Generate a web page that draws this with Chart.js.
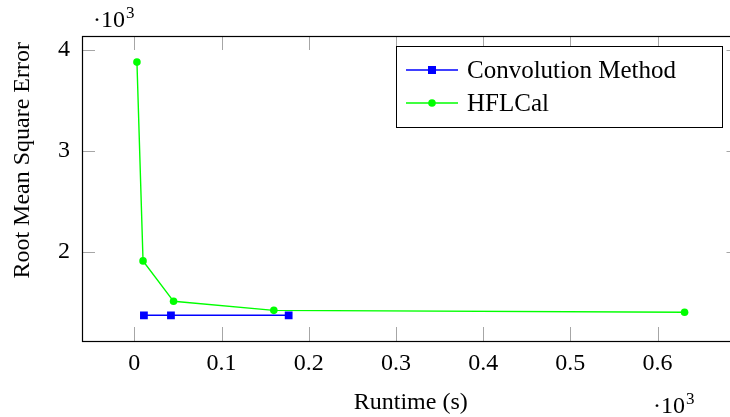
<!DOCTYPE html>
<html>
<head>
<meta charset="utf-8">
<script src="https://cdn.jsdelivr.net/npm/chart.js@4.4.1/dist/chart.umd.min.js"></script>
<style>
  html, body { margin: 0; padding: 0; background: #fff; overflow: hidden; }
  #wrap { width: 730px; height: 417px; overflow: hidden; }
</style>
</head>
<body>
<div id="wrap"><canvas id="rmseChart" width="745" height="417"></canvas></div>
<script>
// == DATA (runtime in s, RMSE) ==
const convRuntime = [11, 42, 177];
const convRmse = [1367, 1367, 1367];
const hflRuntime = [3, 10, 45, 160, 631];
const hflRmse = [3880, 1907, 1506, 1416, 1397];
const seriesNames = ['Convolution Method', 'HFLCal'];
// tick positions (labels are shown in units of 10^3)
const xTickValues = [0, 100, 200, 300, 400, 500, 600];
const yTickValues = [2000, 3000, 4000];

const FONT = '"Liberation Serif", "DejaVu Serif", serif';

function toPoints(xs, ys) {
    return xs.map((x, i) => ({ x: x, y: ys[i] }));
}

// -- inward ticks + frame (pgfplots look)
const framePlugin = {
    id: 'frame',
    beforeDatasetsDraw(chart) {
        const ctx = chart.ctx;
        const a = chart.chartArea;
        const xs = chart.scales.x, ys = chart.scales.y;
        ctx.save();
        ctx.strokeStyle = '#a6a6a6';
        ctx.lineWidth = 1;
        ctx.beginPath();
        xs.ticks.forEach(t => {
            const px = Math.round(xs.getPixelForValue(t.value)) + 0.5;
            ctx.moveTo(px, a.bottom); ctx.lineTo(px, a.bottom - 14);
            ctx.moveTo(px, a.top); ctx.lineTo(px, a.top + 14);
        });
        ys.ticks.forEach(t => {
            const py = Math.round(ys.getPixelForValue(t.value)) + 0.5;
            ctx.moveTo(a.left, py); ctx.lineTo(a.left + 13, py);
            ctx.moveTo(a.right, py); ctx.lineTo(a.right - 13, py);
        });
        ctx.stroke();
        ctx.strokeStyle = '#000';
        ctx.lineWidth = 1.2;
        ctx.strokeRect(a.left + 0.5, a.top + 0.5, a.right - a.left, a.bottom - a.top);
        ctx.restore();
    },
    afterDraw(chart) {
        const ctx = chart.ctx;
        const a = chart.chartArea;
        ctx.save();
        ctx.fillStyle = '#000';
        ctx.textBaseline = 'alphabetic';
        // multiplier labels ·10^3
        function mult(x, y) {
            ctx.font = '24px ' + FONT;
            ctx.fillText('\u00b710', x, y);
            const w = ctx.measureText('\u00b710').width;
            ctx.font = '17px ' + FONT;
            ctx.fillText('3', x + w + 1, y - 9);
        }
        mult(a.left + 11, 27);
        mult(653, 413);

        // legend box (inside, top right)
        const bx = a.left + 314, by = a.top + 10, bw = 326, bh = 81;
        ctx.fillStyle = '#fff';
        ctx.fillRect(bx, by, bw, bh);
        ctx.strokeStyle = '#000';
        ctx.lineWidth = 1;
        ctx.strokeRect(bx + 0.5, by + 0.5, bw, bh);
        chart.data.datasets.forEach((ds, i) => {
            const cy = by + 24 + i * 33;
            ctx.strokeStyle = ds.borderColor;
            ctx.lineWidth = 1.4;
            ctx.beginPath();
            ctx.moveTo(bx + 10, cy); ctx.lineTo(bx + 62, cy);
            ctx.stroke();
            ctx.fillStyle = ds.pointBackgroundColor;
            if (ds.pointStyle === 'rect') {
                ctx.fillRect(bx + 36 - 4, cy - 4, 8, 8);
            } else {
                ctx.beginPath();
                ctx.arc(bx + 36, cy, 3.8, 0, Math.PI * 2);
                ctx.fill();
            }
            ctx.fillStyle = '#000';
            ctx.font = '25px ' + FONT;
            ctx.textBaseline = 'middle';
            ctx.fillText(ds.label, bx + 71, cy + 1);
        });
        ctx.restore();
    }
};

const ctx = document.getElementById('rmseChart').getContext('2d');
const rmseChart = new Chart(ctx, {
    type: 'line',
    data: {
        datasets: [{
            label: seriesNames[0],
            data: toPoints(convRuntime, convRmse),
            borderColor: '#0000ff',
            backgroundColor: '#0000ff',
            pointBackgroundColor: '#0000ff',
            pointBorderColor: '#0000ff',
            pointStyle: 'rect',
            pointRadius: 5.5,
            pointBorderWidth: 0,
            borderWidth: 1.4,
            tension: 0
        }, {
            label: seriesNames[1],
            data: toPoints(hflRuntime, hflRmse),
            borderColor: '#00ff00',
            backgroundColor: '#00ff00',
            pointBackgroundColor: '#00ff00',
            pointBorderColor: '#00ff00',
            pointStyle: 'circle',
            pointRadius: 3.8,
            pointBorderWidth: 0,
            borderWidth: 1.4,
            tension: 0
        }]
    },
    options: {
        responsive: false,
        animation: false,
        devicePixelRatio: 1,
        layout: { padding: { top: 36, right: 3, left: 0, bottom: 0 } },
        plugins: {
            legend: { display: false },
            tooltip: { enabled: false }
        },
        scales: {
            x: {
                type: 'linear',
                min: -60,
                max: 694,
                grid: { display: false, drawTicks: false },
                border: { display: false },
                afterBuildTicks: s => { s.ticks = xTickValues.map(v => ({ value: v })); },
                ticks: {
                    maxRotation: 0,
                    autoSkip: false,
                    padding: 8,
                    color: '#000',
                    font: { family: FONT, size: 24 },
                    callback: v => (v / 1000).toString()
                },
                title: {
                    display: true,
                    text: 'Runtime (s)',
                    color: '#000',
                    font: { family: FONT, size: 24 },
                    padding: { top: 3, bottom: 0 }
                },
                afterFit: s => { s.height = 76; }
            },
            y: {
                type: 'linear',
                min: 1112,
                max: 4139,
                grid: { display: false, drawTicks: false },
                border: { display: false },
                afterBuildTicks: s => { s.ticks = yTickValues.map(v => ({ value: v })); },
                ticks: {
                    autoSkip: false,
                    padding: 12,
                    color: '#000',
                    font: { family: FONT, size: 24 },
                    callback: v => (v / 1000).toString()
                },
                title: {
                    display: true,
                    align: 'end',
                    text: 'Root Mean Square Error ',
                    color: '#000',
                    font: { family: FONT, size: 24 },
                    padding: { top: 8, bottom: 0 }
                },
                afterFit: s => { s.width = 82; }
            }
        }
    },
    plugins: [framePlugin]
});
</script>
</body>
</html>
